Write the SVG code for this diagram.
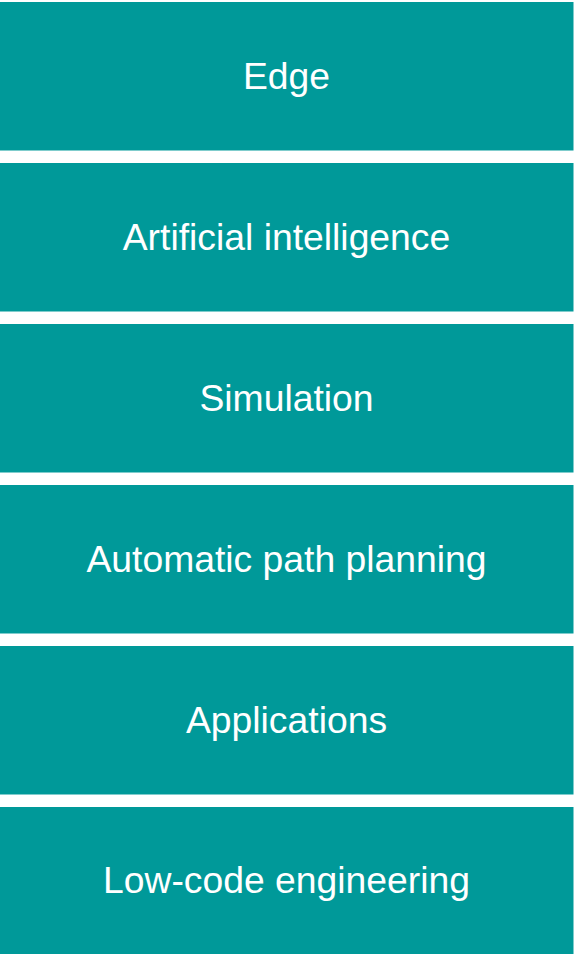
<svg xmlns="http://www.w3.org/2000/svg" width="575" height="954" viewBox="0 0 575 954">
<style>
.box{fill:#009999}
.lbl{fill:#ffffff;font-family:"Liberation Sans",Arial,sans-serif;font-size:37.3px;text-anchor:middle}
</style>
<rect width="575" height="954" fill="#ffffff"/>
<g id="edge"><rect class="box" x="0" y="2" width="573.5" height="148.5"/><text class="lbl" x="286.5" y="89">Edge</text></g>
<g id="ai"><rect class="box" x="0" y="163" width="573.5" height="148.5"/><text class="lbl" x="286.5" y="250">Artificial intelligence</text></g>
<g id="simulation"><rect class="box" x="0" y="324" width="573.5" height="148.5"/><text class="lbl" x="286.5" y="411">Simulation</text></g>
<g id="path"><rect class="box" x="0" y="485" width="573.5" height="148.5"/><text class="lbl" x="286.5" y="572">Automatic path planning</text></g>
<g id="applications"><rect class="box" x="0" y="646" width="573.5" height="148.5"/><text class="lbl" x="286.5" y="733">Applications</text></g>
<g id="lowcode"><rect class="box" x="0" y="807" width="573.5" height="148.5"/><text class="lbl" x="286.5" y="893">Low-code engineering</text></g>
<g id="connectors"></g>
</svg>
